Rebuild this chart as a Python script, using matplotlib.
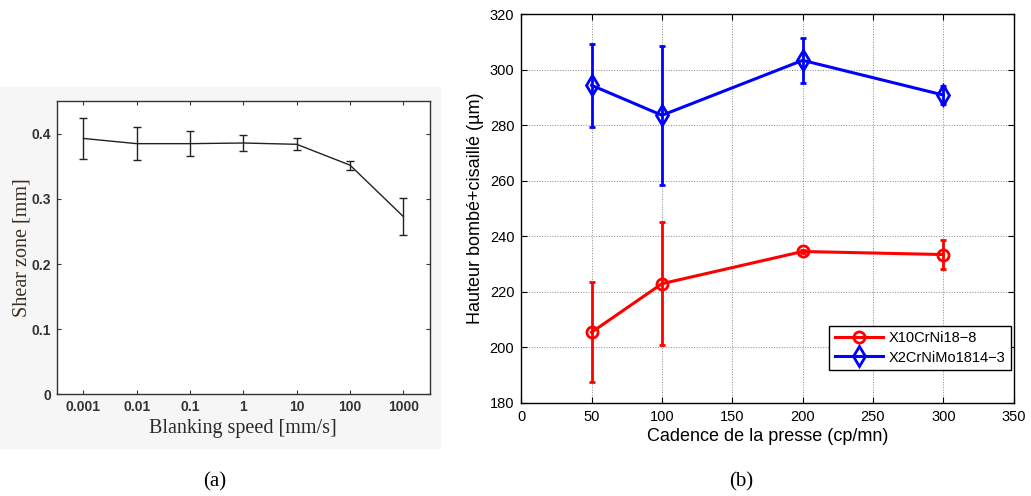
import numpy as np
import matplotlib
matplotlib.use("Agg")
import matplotlib.pyplot as plt
from matplotlib.patches import Rectangle

# (a) shear zone vs blanking speed
speed = [0.001, 0.01, 0.1, 1, 10, 100, 1000]
shear = [0.393, 0.385, 0.385, 0.386, 0.384, 0.352, 0.273]
shear_err = [0.031, 0.025, 0.019, 0.012, 0.009, 0.007, 0.028]
speed_labels = ["0.001", "0.01", "0.1", "1", "10", "100", "1000"]

# (b) height vs press rate
cadence = [50, 100, 200, 300]
h_x10 = [205.4, 222.9, 234.5, 233.4]
err_x10 = [18.0, 22.1, 0.4, 5.2]
h_x2 = [294.4, 283.6, 303.4, 290.9]
err_x2 = [15.0, 25.1, 8.0, 3.1]
legend_names = ["X10CrNi18\u22128", "X2CrNiMo1814\u22123"]

fig = plt.figure(figsize=(10.31, 4.96), dpi=100)
bg = Rectangle((0, 1 - 448 / 496), 440 / 1031, (448 - 87) / 496,
               transform=fig.transFigure, color="#f6f6f6", zorder=-10)
fig.patches.append(bg)

# ---- left panel ----
ax1 = fig.add_axes([0.0550, 0.2050, 0.3621, 0.5907])
ax1.set_facecolor("white")
ax1.errorbar(speed, shear, yerr=shear_err, color="#222222", lw=1.0,
             elinewidth=1.0, capsize=3, capthick=1.0)
ax1.set_xscale("log")
ax1.set_xlim(10 ** -3.5, 10 ** 3.5)
ax1.set_ylim(0, 0.45)
ax1.set_xticks(speed)
ax1.set_xticklabels(speed_labels)
ax1.minorticks_off()
ax1.set_yticks([0, 0.1, 0.2, 0.3, 0.4])
ax1.set_yticklabels(["0", "0.1", "0.2", "0.3", "0.4"])
ax1.tick_params(direction="in", top=True, right=True, length=3, width=0.8,
                labelsize=10, colors="#333333", pad=4)
for lab in ax1.get_xticklabels() + ax1.get_yticklabels():
    lab.set_fontweight("bold")
    lab.set_family("Liberation Sans")
for s in ax1.spines.values():
    s.set_linewidth(1.0)
    s.set_color("#333333")
ax1.set_xlabel("Blanking speed [mm/s]", family="Liberation Serif", fontsize=14.5,
               color="#2a2a2a", labelpad=4)
ax1.set_ylabel("Shear zone [mm]", family="Liberation Serif", fontsize=14.5,
               color="#3a2f25", labelpad=0)

# ---- right panel ----
ax2 = fig.add_axes([0.5056, 0.1881, 0.4776, 0.7831])
c1 = ax2.errorbar(cadence, h_x10, yerr=err_x10, color="#ff0000", lw=2.2, marker="o",
                  ms=8, mfc="none", mew=2.0, elinewidth=2.0, capsize=2.5, capthick=2.0)
c2 = ax2.errorbar(cadence, h_x2, yerr=err_x2, color="#0000ff", lw=2.2, marker="d",
                  ms=10, mfc="none", mew=2.0, elinewidth=2.0, capsize=2.5, capthick=2.0)
ax2.set_xlim(0, 350)
ax2.set_ylim(180, 320)
ax2.set_xticks(np.arange(0, 351, 50))
ax2.set_yticks(np.arange(180, 321, 20))
ax2.grid(True, ls=":", lw=0.7, color="#888888")
ax2.tick_params(direction="in", top=True, right=True, length=4, width=0.8,
                labelsize=10.5, pad=5)
for lab in ax2.get_xticklabels() + ax2.get_yticklabels():
    lab.set_family("Liberation Sans")
for s in ax2.spines.values():
    s.set_linewidth(1.0)
ax2.set_xlabel("Cadence de la presse (cp/mn)", family="Liberation Sans", fontsize=13,
               labelpad=3)
ax2.set_ylabel("Hauteur bomb\u00e9+cisaill\u00e9 (\u00b5m)", family="Liberation Sans",
               fontsize=13, labelpad=4)
leg = ax2.legend([c1[0], c2[0]], legend_names, loc="center",
                 bbox_to_anchor=(0.81, 0.1408), fancybox=False, framealpha=1,
                 edgecolor="black", borderpad=0.4, labelspacing=0.35,
                 handlelength=3.3, handletextpad=0.4, borderaxespad=0.0,
                 prop={"family": "Liberation Sans", "size": 10.5})
leg.get_frame().set_linewidth(1.0)

fig.text(215 / 1031, 1 - 482 / 496, "(a)", ha="center", va="center",
         family="Liberation Serif", fontsize=15)
fig.text(741 / 1031, 1 - 482 / 496, "(b)", ha="center", va="center",
         family="Liberation Serif", fontsize=15)

fig.savefig("out.png", dpi=100)
